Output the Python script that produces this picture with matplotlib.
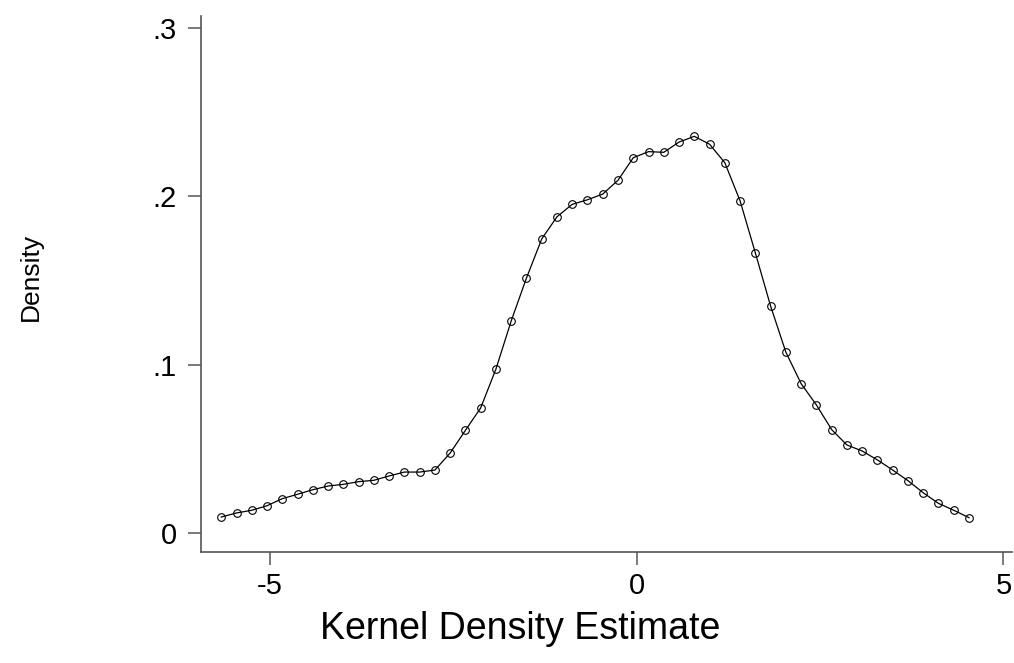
import matplotlib
matplotlib.use("Agg")
import matplotlib.pyplot as plt

plt.rcParams["font.family"] = ["Liberation Sans", "DejaVu Sans"]

# kernel density evaluation points
x_points = [
    -5.662, -5.454, -5.246, -5.038, -4.830, -4.622, -4.414, -4.206, -3.998, -3.790,
    -3.582, -3.374, -3.166, -2.958, -2.750, -2.542, -2.334, -2.126, -1.918, -1.710,
    -1.502, -1.294, -1.086, -0.878, -0.670, -0.462, -0.254, -0.046, 0.162, 0.370,
    0.578, 0.786, 0.994, 1.202, 1.410, 1.618, 1.826, 2.034, 2.242, 2.450,
    2.658, 2.866, 3.074, 3.282, 3.490, 3.698, 3.906, 4.114, 4.322, 4.530,
]
density = [
    0.0095, 0.0119, 0.0135, 0.0162, 0.0204, 0.0230, 0.0257, 0.0279, 0.0289, 0.0305,
    0.0313, 0.0339, 0.0362, 0.0362, 0.0374, 0.0475, 0.0610, 0.0743, 0.0974, 0.1260,
    0.1515, 0.1747, 0.1879, 0.1953, 0.1980, 0.2014, 0.2096, 0.2230, 0.2266, 0.2262,
    0.2323, 0.2357, 0.2310, 0.2200, 0.1973, 0.1664, 0.1348, 0.1074, 0.0887, 0.0761,
    0.0614, 0.0523, 0.0487, 0.0434, 0.0374, 0.0311, 0.0239, 0.0176, 0.0135, 0.0091,
]
x_ticks = [-5, 0, 5]
x_tick_labels = ["-5", "0", "5"]
y_ticks = [0, 0.1, 0.2, 0.3]
y_tick_labels = ["0", ".1", ".2", ".3"]

fig = plt.figure(figsize=(10.14, 6.63), dpi=100)
ax = fig.add_axes([201 / 1014, 1 - 552 / 663, 811 / 1014, 536 / 663])

ax.plot(x_points, density, color="black", linewidth=0.9,
        marker="o", markersize=5.5, markerfacecolor="none",
        markeredgecolor="black", markeredgewidth=0.8)

ax.set_xlim(-5.938, 5.116)
ax.set_ylim(-0.0113, 0.3072)

spine_color = "#555555"
for side in ("top", "right"):
    ax.spines[side].set_visible(False)
for side in ("left", "bottom"):
    ax.spines[side].set_color(spine_color)
    ax.spines[side].set_linewidth(1.2)

ax.set_xticks(x_ticks)
ax.set_xticklabels(x_tick_labels)
ax.set_yticks(y_ticks)
ax.set_yticklabels(y_tick_labels)
ax.tick_params(axis="both", length=9.5, width=1.1, color=spine_color,
               labelsize=21, pad=5)
ax.tick_params(axis="y", pad=8)

ax.set_xlabel("Kernel Density Estimate", fontsize=27)
ax.xaxis.set_label_coords((520 - 201) / 811, (552 - 629) / 536)
ax.xaxis.label.set_va("center")

ax.set_ylabel("Density", fontsize=19)
ax.yaxis.set_label_coords((31 - 201) / 811, (552 - 277) / 536)
ax.yaxis.label.set_va("center")

fig.savefig("out.png", dpi=100)
